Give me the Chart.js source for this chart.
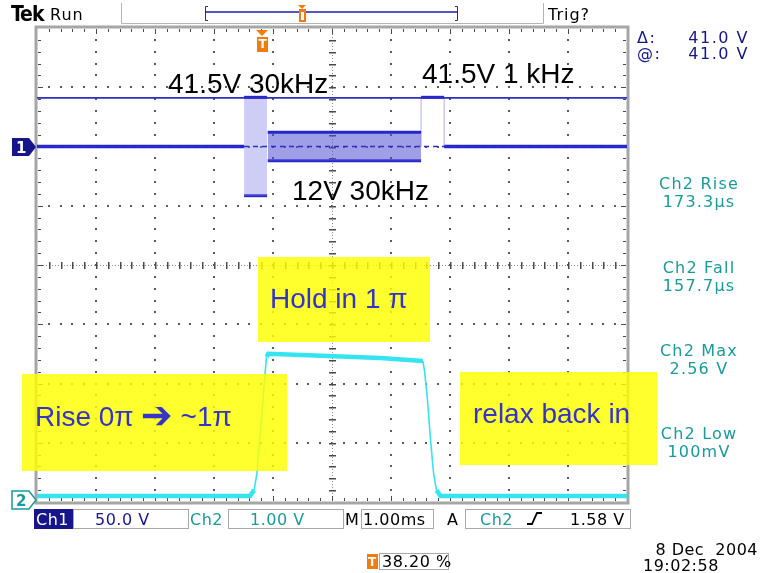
<!DOCTYPE html>
<html>
<head>
<meta charset="utf-8">
<script src="https://cdn.jsdelivr.net/npm/chart.js@4.4.1/dist/chart.umd.min.js"></script>
<style>
  html, body { margin: 0; padding: 0; background: #fff; }
  canvas { display: block; }
</style>
</head>
<body>
<canvas id="scope" width="766" height="573"></canvas>
<script>
// time axis: ms relative to trigger, 1 ms/div, trigger at 38.2 % of the record
const timeStart = -3.82;
const timeEnd = 6.18;

// Ch1 (50 V/div): flat baseline with three drive bursts
const burstStart = [-0.31, 0.09, 2.69];
const burstEnd = [0.08, 2.69, 3.08];
const burstHigh = [41.5, 12, 41.5];
const burstLow = [-41.5, -12, null];
const burstFill = ["rgba(130,130,232,0.40)", "rgba(80,80,212,0.55)", null];

// horizontal cursors on Ch1 (volts)
const cursorLevels = [41.0, 0];

// Ch2 (1 V/div): detector response
const ch2Time = [-3.82, -0.21, -0.14, -0.09, -0.05, 0, 0.04, 0.07, 0.1, 1.0, 2.0, 2.72, 2.75, 2.8, 2.85, 2.9, 2.95, 3.02, 6.18];
const ch2Volts = [0.1, 0.1, 0.2, 0.5, 1.0, 1.58, 2.1, 2.45, 2.5, 2.47, 2.43, 2.38, 2.2, 1.7, 1.05, 0.5, 0.2, 0.1, 0.1];

// readouts
const readoutNames = ["Ch2 Rise", "Ch2 Fall", "Ch2 Max", "Ch2 Low"];
const readoutValues = ["173.3\u00b5s", "157.7\u00b5s", "2.56 V", "100mV"];
const cursorReadout = ["41.0 V", "41.0 V"];

const CH1 = "#2626cc";
const CH2 = "#35e4f0";
const TEAL = "#1a9a9a";
const NAVY = "#16168a";
const ORANGE = "#f07c10";
const UI_FONT = '"DejaVu Sans", "Liberation Sans", sans-serif';
const NOTE_FONT = '"Liberation Sans", Arial, sans-serif';

const datasets = [];

// cursors go first so they are painted over the traces
cursorLevels.forEach((lvl, i) => {
    datasets.push({
        data: [{ x: timeStart, y: lvl }, { x: timeEnd, y: lvl }],
        yAxisID: "y",
        borderColor: "#2e2ec4",
        borderWidth: i === 0 ? 1.8 : 1.5,
        borderDash: i === 0 ? [] : [5, 4],
        pointRadius: 0,
        fill: false,
    });
});

// Ch1 bursts: envelope top/bottom with the dense switching filled between
burstStart.forEach((t0, i) => {
    const t1 = burstEnd[i];
    datasets.push({
        data: [{ x: t0, y: burstHigh[i] }, { x: t1, y: burstHigh[i] }],
        yAxisID: "y",
        borderColor: CH1,
        borderWidth: 3,
        pointRadius: 0,
        backgroundColor: burstFill[i] || "transparent",
        fill: burstLow[i] === null ? false : { value: burstLow[i] },
    });
    if (burstLow[i] !== null) {
        datasets.push({
            data: [{ x: t0, y: burstLow[i] }, { x: t1, y: burstLow[i] }],
            yAxisID: "y",
            borderColor: CH1,
            borderWidth: 3,
            pointRadius: 0,
            fill: false,
        });
    } else {
        // single slow pulse: only faint edges back to the baseline
        [t0, t1].forEach((t) => {
            datasets.push({
                data: [{ x: t, y: 0 }, { x: t, y: burstHigh[i] }],
                yAxisID: "y",
                borderColor: "rgba(110,110,225,0.55)",
                borderWidth: 1,
                pointRadius: 0,
                fill: false,
            });
        });
    }
});

// Ch1 baseline before and after the bursts
datasets.push({
    data: [{ x: timeStart, y: 0 }, { x: burstStart[0], y: 0 }],
    yAxisID: "y", borderColor: CH1, borderWidth: 3.5, pointRadius: 0, fill: false,
});
datasets.push({
    data: [{ x: burstEnd[burstEnd.length - 1], y: 0 }, { x: timeEnd, y: 0 }],
    yAxisID: "y", borderColor: CH1, borderWidth: 3.5, pointRadius: 0, fill: false,
});

// Ch2 trace, thick where flat (noise band), thin on the edges
datasets.push({
    data: ch2Time.map((t, i) => ({ x: t, y: ch2Volts[i] })),
    yAxisID: "y2",
    borderColor: CH2,
    borderWidth: 4.5,
    pointRadius: 0,
    fill: false,
    segment: {
        borderWidth: (c) => {
            const dx = Math.abs(c.p1.x - c.p0.x);
            const dy = Math.abs(c.p1.y - c.p0.y);
            return dy > 2 * dx ? 1.6 : 4.5;
        },
    },
});

const graticule = {
    id: "graticule",
    beforeDraw(chart) {
        const ctx = chart.ctx;
        ctx.save();
        ctx.fillStyle = "#ffffff";
        ctx.fillRect(0, 0, chart.width, chart.height);
        ctx.restore();
    },
    beforeDatasetsDraw(chart) {
        const { ctx, chartArea: a } = chart;
        const dx = (a.right - a.left) / 10;
        const dy = (a.bottom - a.top) / 8;
        ctx.save();
        ctx.fillStyle = "#5a5a5a";
        // dotted division lines
        for (let i = 1; i < 10; i++) {
            if (i === 5) continue;
            const x = Math.round(a.left + i * dx);
            for (let k = 1; k < 40; k++) {
                ctx.fillRect(x - 1, Math.round(a.top + k * dy / 5) - 1, 2, 2);
            }
        }
        for (let j = 1; j < 8; j++) {
            if (j === 4) continue;
            const y = Math.round(a.top + j * dy);
            for (let k = 1; k < 50; k++) {
                ctx.fillRect(Math.round(a.left + k * dx / 5) - 1, y - 1, 2, 2);
            }
        }
        // centre axes with minor ticks
        const cx = Math.round(a.left + 5 * dx);
        const cy = Math.round(a.top + 4 * dy);
        ctx.fillStyle = "#8a8a8a";
        for (let y = a.top; y < a.bottom; y += 3) ctx.fillRect(cx, y, 1, 1);
        for (let x = a.left; x < a.right; x += 3) ctx.fillRect(x, cy, 1, 1);
        ctx.fillStyle = "#4a4a4a";
        for (let k = 1; k < 40; k++) ctx.fillRect(cx - 3, Math.round(a.top + k * dy / 5), 7, 1.5);
        for (let k = 1; k < 50; k++) ctx.fillRect(Math.round(a.left + k * dx / 5), cy - 3, 1.5, 7);
        // frame with inward ruler ticks
        ctx.strokeStyle = "#a6a6a6";
        ctx.lineWidth = 3;
        ctx.strokeRect(a.left - 1, a.top - 1, a.right - a.left + 2, a.bottom - a.top + 2);
        ctx.fillStyle = "#4a4a4a";
        for (let k = 1; k < 50; k++) {
            const x = Math.round(a.left + k * dx / 5);
            const len = k % 5 === 0 ? 5 : 3;
            ctx.fillRect(x, a.top + 1, 1, len);
            ctx.fillRect(x, a.bottom - 1 - len, 1, len);
        }
        for (let k = 1; k < 40; k++) {
            const y = Math.round(a.top + k * dy / 5);
            const len = k % 5 === 0 ? 5 : 3;
            ctx.fillRect(a.left + 1, y, len, 1);
            ctx.fillRect(a.right - 1 - len, y, len, 1);
        }
        ctx.restore();
    },
    afterDatasetsDraw(chart) {
        const { ctx } = chart;
        const xs = chart.scales.x;
        ctx.save();
        // highlighted notes
        ctx.fillStyle = "rgba(255,255,0,0.82)";
        ctx.fillRect(258, 257, 172, 85);
        ctx.fillRect(22, 374, 265, 97);
        ctx.fillRect(460, 372, 197, 93);
        ctx.textBaseline = "middle";
        ctx.font = "28px " + NOTE_FONT;
        ctx.fillStyle = "#3434c8";
        ctx.fillText("Hold in 1 \u03c0", 270, 300);
        ctx.fillText("relax back in", 473, 415);
        const riseWord = "Rise 0\u03c0";
        ctx.fillText(riseWord, 35, 418);
        let ax = 35 + ctx.measureText(riseWord).width + 7;
        ctx.font = 'bold 38px "DejaVu Sans", ' + NOTE_FONT;
        ctx.fillText("\u2794", ax, 418);
        ax += ctx.measureText("\u2794").width + 8;
        ctx.font = "28px " + NOTE_FONT;
        ctx.fillText("~1\u03c0", ax, 418);
        ctx.fillStyle = "#000000";
        ctx.fillText("41.5V 30kHz", 168, 85);
        ctx.fillText("41.5V 1 kHz", 422, 75);
        ctx.fillText("12V 30kHz", 292, 192);

        // trigger position marker on the graticule
        const tx = Math.round(xs.getPixelForValue(0));
        ctx.fillStyle = ORANGE;
        ctx.beginPath();
        ctx.moveTo(tx - 6, 30); ctx.lineTo(tx + 6, 30); ctx.lineTo(tx, 36); ctx.closePath();
        ctx.fill();
        ctx.fillRect(tx - 5, 37, 11, 15);
        ctx.fillStyle = "#fff";
        ctx.font = "bold 12px " + UI_FONT;
        ctx.textAlign = "center";
        ctx.fillText("T", tx + 0.5, 45);
        ctx.restore();
    },
    afterDraw(chart) {
        const { ctx, scales } = chart;
        const g1 = Math.round(scales.y.getPixelForValue(0));
        const g2 = Math.round(scales.y2.getPixelForValue(0)) - 2;
        ctx.save();
        ctx.textBaseline = "alphabetic";
        ctx.letterSpacing = "1px";

        // channel ground markers
        ctx.fillStyle = NAVY;
        ctx.beginPath();
        ctx.moveTo(12, g1 - 9); ctx.lineTo(29, g1 - 9); ctx.lineTo(36, g1);
        ctx.lineTo(29, g1 + 9); ctx.lineTo(12, g1 + 9); ctx.closePath();
        ctx.fill();
        ctx.fillStyle = "#fff";
        ctx.font = "bold 15px " + UI_FONT;
        ctx.fillText("1", 16, g1 + 6);
        ctx.strokeStyle = TEAL;
        ctx.lineWidth = 1.5;
        ctx.fillStyle = "#fff";
        ctx.beginPath();
        ctx.moveTo(12, g2 - 9); ctx.lineTo(29, g2 - 9); ctx.lineTo(36, g2);
        ctx.lineTo(29, g2 + 9); ctx.lineTo(12, g2 + 9); ctx.closePath();
        ctx.fill(); ctx.stroke();
        ctx.fillStyle = TEAL;
        ctx.fillText("2", 16, g2 + 6);

        // top status bar
        ctx.fillStyle = "#000";
        ctx.font = 'bold 21px "DejaVu Sans Condensed", ' + UI_FONT;
        ctx.letterSpacing = "-1px";
        ctx.fillText("Tek", 11, 21);
        ctx.letterSpacing = "1px";
        ctx.font = "16px " + UI_FONT;
        ctx.fillText("Run", 50, 20);
        ctx.fillText("Trig?", 548, 20);
        ctx.strokeStyle = "#b4b4b4";
        ctx.lineWidth = 1;
        ctx.beginPath();
        ctx.moveTo(121.5, 3); ctx.lineTo(121.5, 23.5); ctx.lineTo(543.5, 23.5); ctx.lineTo(543.5, 3);
        ctx.stroke();
        // record window
        ctx.strokeStyle = "#333";
        ctx.beginPath();
        ctx.moveTo(208, 6.5); ctx.lineTo(205.5, 6.5); ctx.lineTo(205.5, 20.5); ctx.lineTo(208, 20.5);
        ctx.moveTo(455, 6.5); ctx.lineTo(457.5, 6.5); ctx.lineTo(457.5, 20.5); ctx.lineTo(455, 20.5);
        ctx.stroke();
        ctx.strokeStyle = "#5454c4";
        ctx.lineWidth = 2;
        ctx.beginPath(); ctx.moveTo(206, 12); ctx.lineTo(457, 12); ctx.stroke();
        const rx = 302;
        ctx.fillStyle = ORANGE;
        ctx.beginPath(); ctx.moveTo(rx - 4, 5); ctx.lineTo(rx + 4, 5); ctx.lineTo(rx, 9); ctx.closePath(); ctx.fill();
        ctx.fillRect(rx - 3, 9, 7, 13);
        ctx.fillStyle = "#fff";
        ctx.fillRect(rx - 1, 12, 3, 8);

        // cursor readout
        ctx.fillStyle = NAVY;
        ctx.font = "16px " + UI_FONT;
        ctx.letterSpacing = "1.5px";
        ctx.fillText("\u0394:", 637, 43);
        ctx.fillText("@:", 637, 59);
        ctx.textAlign = "right";
        ctx.fillText(cursorReadout[0], 749, 43);
        ctx.fillText(cursorReadout[1], 749, 59);

        // measurements
        ctx.textAlign = "center";
        ctx.fillStyle = TEAL;
        ctx.letterSpacing = "1.2px";
        const rowY = [189, 273, 356, 439];
        readoutNames.forEach((name, i) => {
            ctx.fillText(name, 699, rowY[i]);
            ctx.fillText(readoutValues[i], 699, rowY[i] + 18);
        });

        // bottom settings bar
        ctx.textAlign = "left";
        ctx.letterSpacing = "0.5px";
        ctx.font = "16px " + UI_FONT;
        ctx.fillStyle = NAVY;
        ctx.fillRect(34, 509, 39, 20);
        ctx.fillStyle = "#fff";
        ctx.fillText("Ch1", 36, 525);
        ctx.strokeStyle = "#a8a8a8";
        ctx.lineWidth = 1;
        [[73, 115], [228, 115], [361, 72], [465, 165]].forEach(([x, w]) => {
            ctx.strokeRect(x + 0.5, 509.5, w, 19);
        });
        ctx.fillStyle = NAVY;
        ctx.fillText("50.0 V", 95, 525);
        ctx.fillStyle = TEAL;
        ctx.fillText("Ch2", 190, 525);
        ctx.fillText("1.00 V", 250, 525);
        ctx.fillText("Ch2", 480, 525);
        ctx.fillStyle = "#000";
        ctx.fillText("M", 345, 525);
        ctx.fillText("1.00ms", 363, 525);
        ctx.fillText("A", 447, 525);
        ctx.fillText("1.58 V", 570, 525);
        ctx.strokeStyle = "#000";
        ctx.lineWidth = 1.8;
        ctx.beginPath();
        ctx.moveTo(527, 524); ctx.lineTo(532, 524); ctx.lineTo(537, 513); ctx.lineTo(542, 513);
        ctx.stroke();

        // trigger point readout and timestamp
        ctx.fillStyle = ORANGE;
        ctx.fillRect(367, 554, 11, 15);
        ctx.fillStyle = "#fff";
        ctx.font = "bold 12px " + UI_FONT;
        ctx.fillText("T", 368, 566);
        ctx.strokeStyle = "#a8a8a8";
        ctx.lineWidth = 1;
        ctx.strokeRect(379.5, 553.5, 69, 16);
        ctx.fillStyle = "#000";
        ctx.font = "16px " + UI_FONT;
        ctx.fillText("38.20 %", 382, 567);
        ctx.textAlign = "right";
        ctx.fillText("8 Dec  2004", 758, 555);
        ctx.textAlign = "left";
        ctx.fillText("19:02:58", 643, 571);
        ctx.restore();
    },
};

new Chart(document.getElementById("scope"), {
    type: "line",
    data: { datasets: datasets },
    options: {
        responsive: false,
        animation: false,
        devicePixelRatio: 1,
        layout: { padding: { left: 37, top: 28, right: 139, bottom: 71 } },
        plugins: { legend: { display: false }, tooltip: { enabled: false } },
        elements: { line: { tension: 0 } },
        scales: {
            x: { type: "linear", min: timeStart, max: timeEnd, display: false },
            y: { min: -300, max: 100, display: false },
            y2: { min: 0, max: 8, display: false },
        },
    },
    plugins: [graticule],
});
</script>
</body>
</html>
